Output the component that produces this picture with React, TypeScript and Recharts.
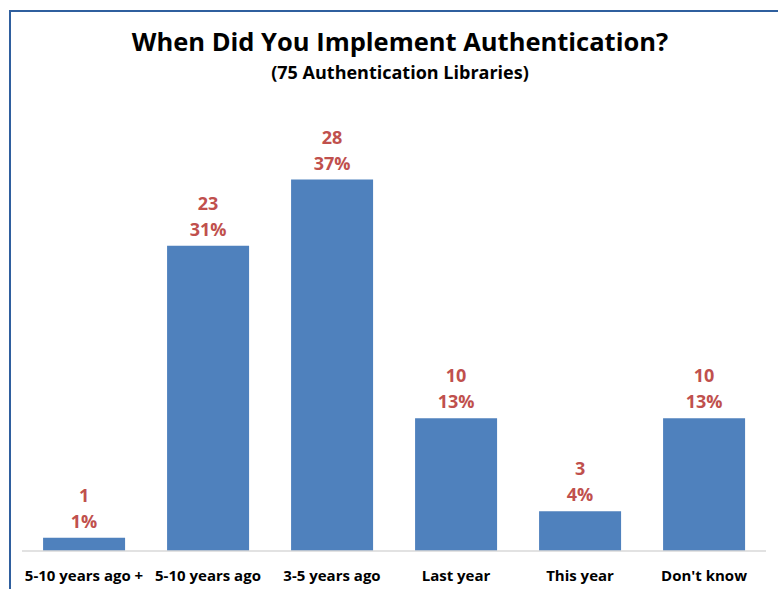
import { BarChart, Bar, XAxis, YAxis, LabelList } from "recharts";

const categories = [
  "5-10 years ago +",
  "5-10 years ago",
  "3-5 years ago",
  "Last year",
  "This year",
  "Don't know",
];
const counts = [1, 23, 28, 10, 3, 10];
const percents = ["1%", "31%", "37%", "13%", "4%", "13%"];

const data = categories.map((name, i) => ({
  name,
  count: counts[i],
  pct: percents[i],
}));

const FONT = "'Open Sans', 'DejaVu Sans', sans-serif";

function TwoLineLabel(props: any) {
  const { x, y, width, index } = props;
  const cx = x + width / 2;
  return (
    <g>
      <text x={cx} y={y - 36} textAnchor="middle" fill="#C0504D" fontSize={18} fontWeight="bold" fontFamily={FONT}>
        {counts[index]}
      </text>
      <text x={cx} y={y - 10} textAnchor="middle" fill="#C0504D" fontSize={18} fontWeight="bold" fontFamily={FONT}>
        {percents[index]}
      </text>
    </g>
  );
}

export default function App() {
  return (
    <div style={{ position: "absolute", left: 0, top: 0, width: 778, height: 589, background: "#fff" }}>
      <div
        style={{
          position: "absolute",
          left: 9,
          top: 10,
          right: 0,
          bottom: 0,
          borderLeft: "2px solid #2F5F9E",
          borderTop: "2px solid #2F5F9E",
        }}
      />
      <div
        style={{
          position: "absolute",
          left: 0,
          top: 24,
          width: 800,
          textAlign: "center",
          fontFamily: FONT,
          fontWeight: "bold",
          fontSize: 25.5,
          color: "#000",
        }}
      >
        When Did You Implement Authentication?
      </div>
      <div
        style={{
          position: "absolute",
          left: 0,
          top: 60,
          width: 800,
          textAlign: "center",
          fontFamily: FONT,
          fontWeight: "bold",
          fontSize: 18,
          color: "#000",
        }}
      >
        (75 Authentication Libraries)
      </div>
      <div style={{ position: "absolute", left: 0, top: 0 }}>
        <BarChart
          width={778}
          height={589}
          data={data}
          margin={{ top: 153, right: 12, bottom: 0, left: 22 }}
          barCategoryGap="17%"
        >
          <XAxis
            dataKey="name"
            axisLine={{ stroke: "#D9D9D9", strokeWidth: 1.5 }}
            tickLine={false}
            interval={0}
            height={38}
            tick={{ fill: "#000", fontSize: 15, fontWeight: "bold", fontFamily: FONT, dy: 11 }}
          />
          <YAxis hide domain={[0, 30]} />
          <Bar dataKey="count" fill="#4F81BD" isAnimationActive={false}>
            <LabelList dataKey="count" content={<TwoLineLabel />} />
          </Bar>
        </BarChart>
      </div>
    </div>
  );
}
